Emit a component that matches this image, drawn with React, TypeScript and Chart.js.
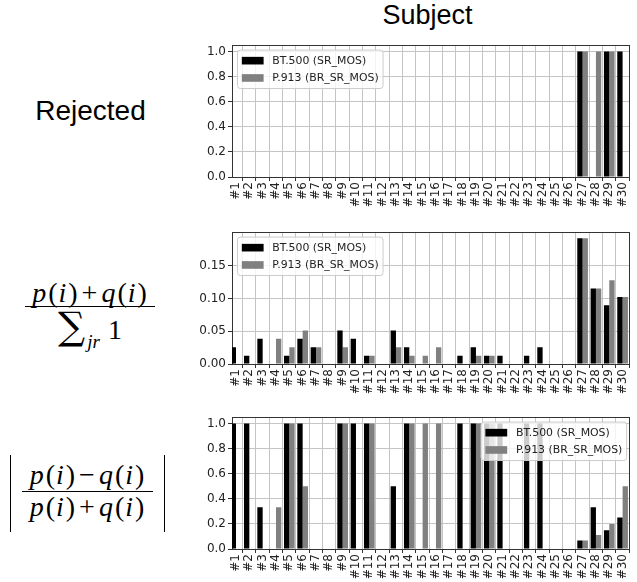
import React, { useEffect, useRef } from 'react';
import { Chart, registerables } from 'chart.js';

Chart.register(...registerables);

// ---------- data ----------
const subjects = ['#1','#2','#3','#4','#5','#6','#7','#8','#9','#10','#11','#12','#13','#14','#15','#16','#17','#18','#19','#20','#21','#22','#23','#24','#25','#26','#27','#28','#29','#30'];
const seriesLabels = ['BT.500 (SR_MOS)', 'P.913 (BR_SR_MOS)'];
const seriesColors = ['#000000', '#808080'];

// Panel 1: Rejected
const rejectedBT500 = [0,0,0,0,0,0,0,0,0,0,0,0,0,0,0,0,0,0,0,0,0,0,0,0,0,0,1,0,1,1];
const rejectedP913  = [0,0,0,0,0,0,0,0,0,0,0,0,0,0,0,0,0,0,0,0,0,0,0,0,0,0,1,1,1,0];

// Panel 2: (p(i)+q(i)) / sum 1
const shareBT500 = [0.0256,0.0128,0.0385,0,0.0128,0.0385,0.0256,0,0.0513,0.0385,0.0128,0,0.0513,0.0256,0,0,0,0.0128,0.0256,0.0128,0.0128,0,0.0128,0.0256,0,0,0.1923,0.1154,0.0897,0.1026];
const shareP913  = [0,0,0,0.0385,0.0256,0.0513,0.0256,0,0.0256,0,0.0128,0,0.0256,0.0128,0.0128,0.0256,0,0,0.0128,0.0128,0,0,0,0,0,0,0.1923,0.1154,0.1282,0.1026];

// Panel 3: |p(i)-q(i)| / (p(i)+q(i))
const asymBT500 = [1,1,0.333,0,1,1,0,0,1,1,1,0,0.5,1,0,0,0,1,1,1,1,0,1,1,0,0,0.067,0.333,0.15,0.25];
const asymP913  = [0,0,0,0.333,1,0.5,0,0,1,0,1,0,0,1,1,1,0,0,1,1,0,0,0,0,0,0,0.067,0.111,0.2,0.5];

const yTicksUnit = [0, 0.2, 0.4, 0.6, 0.8, 1.0];
const yLabelsUnit = ['0.0', '0.2', '0.4', '0.6', '0.8', '1.0'];
const yTicksShare = [0, 0.05, 0.10, 0.15];
const yLabelsShare = ['0.00', '0.05', '0.10', '0.15'];

// ---------- plugins ----------
const framePlugin = {
  id: 'frameSpines',
  afterDatasetsDraw(chart: any) {
    const { ctx, chartArea: a } = chart;
    ctx.save();
    ctx.strokeStyle = '#333333';
    ctx.lineWidth = 1;
    ctx.beginPath();
    ctx.moveTo(a.left, Math.round(a.top) + 0.5);
    ctx.lineTo(a.right, Math.round(a.top) + 0.5);
    ctx.moveTo(Math.round(a.right) - 0.5, a.top);
    ctx.lineTo(Math.round(a.right) - 0.5, a.bottom);
    ctx.stroke();
    ctx.restore();
  },
};

const boxLegendPlugin = {
  id: 'boxLegend',
  afterDraw(chart: any, _args: any, opts: any) {
    const { ctx, chartArea: a } = chart;
    const fs = 10.9;
    ctx.save();
    ctx.font = `${fs}px "DejaVu Sans"`;
    const items = chart.data.datasets.map((d: any) => ({ label: d.label, color: d.backgroundColor }));
    const textW = Math.max(...items.map((it: any) => ctx.measureText(it.label).width));
    const pad = 0.4 * fs;
    const handleW = 2 * fs;
    const gap = 0.8 * fs;
    const textH = 12.4;
    const spacing = 0.45 * fs;
    const boxW = pad + handleW + gap + textW + pad;
    const boxH = 2 * pad + items.length * textH + (items.length - 1) * spacing;
    const top = a.top + 0.45 * fs;
    const left = opts.position === 'right' ? a.right - 0.3 * fs - boxW : a.left + 0.5 * fs;
    const r = 3;
    ctx.beginPath();
    ctx.moveTo(left + r, top);
    ctx.lineTo(left + boxW - r, top);
    ctx.quadraticCurveTo(left + boxW, top, left + boxW, top + r);
    ctx.lineTo(left + boxW, top + boxH - r);
    ctx.quadraticCurveTo(left + boxW, top + boxH, left + boxW - r, top + boxH);
    ctx.lineTo(left + r, top + boxH);
    ctx.quadraticCurveTo(left, top + boxH, left, top + boxH - r);
    ctx.lineTo(left, top + r);
    ctx.quadraticCurveTo(left, top, left + r, top);
    ctx.closePath();
    ctx.fillStyle = 'rgba(255,255,255,0.8)';
    ctx.fill();
    ctx.strokeStyle = '#cccccc';
    ctx.lineWidth = 1;
    ctx.stroke();
    ctx.textBaseline = 'middle';
    ctx.textAlign = 'left';
    items.forEach((it: any, i: number) => {
      const cy = top + pad + textH / 2 + i * (textH + spacing);
      ctx.fillStyle = it.color;
      ctx.fillRect(left + pad, cy - 0.35 * fs, handleW, 0.7 * fs);
      ctx.fillStyle = '#222222';
      ctx.fillText(it.label, left + pad + handleW + gap, cy + 0.5);
    });
    ctx.restore();
  },
};

// ---------- chart component ----------
type PanelProps = {
  top: number;
  bt: number[];
  p9: number[];
  yMax: number;
  yTicks: number[];
  yLabels: string[];
  legendPos: 'left' | 'right';
};

const CANVAS_W = 448;
const CANVAS_H = 171;

function Panel({ top, bt, p9, yMax, yTicks, yLabels, legendPos }: PanelProps) {
  const ref = useRef<HTMLCanvasElement | null>(null);
  useEffect(() => {
    if (!ref.current) return;
    const tickFont = { family: '"DejaVu Sans"', size: 12 };
    const chart = new Chart(ref.current, {
      type: 'bar',
      data: {
        datasets: [
          {
            label: seriesLabels[0],
            data: bt.map((v, i) => ({ x: i + 1, y: v })),
            backgroundColor: seriesColors[0],
            borderWidth: 0,
            clip: 0,
          } as any,
          {
            label: seriesLabels[1],
            data: p9.map((v, i) => ({ x: i + 1, y: v })),
            backgroundColor: seriesColors[1],
            borderWidth: 0,
            clip: 0,
          } as any,
        ],
      },
      options: {
        responsive: false,
        animation: false,
        events: [],
        layout: { padding: { top: 5, left: 0, right: 0, bottom: 0 } },
        datasets: { bar: { categoryPercentage: 0.8, barPercentage: 1.0 } },
        plugins: {
          legend: { display: false },
          tooltip: { enabled: false },
          boxLegend: { position: legendPos },
        } as any,
        scales: {
          x: {
            type: 'linear',
            min: 0.7,
            max: 30.55,
            offset: false,
            afterBuildTicks: (scale: any) => {
              scale.ticks = subjects.map((_, i) => ({ value: i + 1 }));
            },
            afterFit: (scale: any) => {
              scale.height = 30;
            },
            ticks: {
              autoSkip: false,
              minRotation: 90,
              maxRotation: 90,
              padding: 1,
              color: '#222222',
              font: tickFont,
              callback: (_v: any, i: number) => subjects[i],
            },
            grid: {
              color: '#c4c4c4',
              lineWidth: 1,
              tickColor: '#333333',
              tickLength: 4,
            },
            border: { color: '#333333', width: 1 },
          } as any,
          y: {
            type: 'linear',
            min: 0,
            max: yMax,
            afterBuildTicks: (scale: any) => {
              scale.ticks = yTicks.map((v) => ({ value: v }));
            },
            afterFit: (scale: any) => {
              scale.width = 42;
            },
            ticks: {
              padding: 2,
              color: '#222222',
              font: tickFont,
              callback: (_v: any, i: number) => yLabels[i],
            },
            grid: {
              color: '#c4c4c4',
              lineWidth: 1,
              tickColor: '#333333',
              tickLength: 4,
            },
            border: { color: '#333333', width: 1 },
          } as any,
        },
      },
      plugins: [framePlugin, boxLegendPlugin],
    });
    return () => chart.destroy();
  }, []);
  return (
    <canvas
      ref={ref}
      width={CANVAS_W}
      height={CANVAS_H}
      style={{ position: 'absolute', left: 190, top, width: CANVAS_W, height: CANVAS_H }}
    />
  );
}

// ---------- math text helpers ----------
const serif = '"Liberation Serif", "DejaVu Serif", serif';
const I = ({ c }: { c: string }) => <span style={{ fontStyle: 'italic' }}>{c}</span>;
const PofI = ({ f }: { f: string }) => (
  <span>
    <I c={f} />
    <span style={{ marginLeft: 1 }}>(</span>
    <I c="i" />
    <span style={{ marginLeft: 1 }}>)</span>
  </span>
);
const Op = ({ c }: { c: string }) => <span style={{ margin: '0 3px' }}>{c}</span>;

export default function App() {
  const lineBase: React.CSSProperties = {
    position: 'absolute',
    fontFamily: serif,
    fontSize: 28,
    lineHeight: '28px',
    textAlign: 'center',
    whiteSpace: 'nowrap',
    color: '#000',
    letterSpacing: 1,
  };
  return (
    <div
      style={{
        position: 'fixed',
        left: 0,
        top: 0,
        width: 637,
        height: 582,
        overflow: 'hidden',
        background: '#ffffff',
      }}
    >
      <div
        style={{
          position: 'absolute',
          left: 327.5,
          width: 200,
          top: 2,
          textAlign: 'center',
          fontFamily: '"Liberation Sans", Arial, sans-serif',
          fontSize: 27,
          lineHeight: '27px',
          color: '#000',
        }}
      >
        Subject
      </div>
      <div
        style={{
          position: 'absolute',
          left: 0,
          width: 181,
          top: 97,
          textAlign: 'center',
          fontFamily: '"Liberation Sans", Arial, sans-serif',
          fontSize: 28,
          lineHeight: '28px',
          color: '#000',
        }}
      >
        Rejected
      </div>

      {/* middle formula: (p(i)+q(i)) / sum_jr 1 */}
      <div style={{ ...lineBase, left: 22, width: 136, top: 279 }}>
        <PofI f="p" />
        <Op c="+" />
        <PofI f="q" />
      </div>
      <div style={{ position: 'absolute', left: 25, width: 130, top: 306, height: 1.4, background: '#000' }} />
      <div style={{ ...lineBase, left: 22, width: 136, top: 309, letterSpacing: 0, lineHeight: '34px', height: 34 }}>
        <span style={{ fontSize: 38, fontFamily: '"DejaVu Serif", serif', fontWeight: 300 }}>∑</span>
        <span style={{ fontStyle: 'italic', fontSize: 19, position: 'relative', top: 9, marginLeft: 2 }}>jr</span>
        <span style={{ marginLeft: 8 }}>1</span>
      </div>

      {/* bottom formula: |(p(i)-q(i)) / (p(i)+q(i))| */}
      <div style={{ position: 'absolute', left: 9.5, width: 1.4, top: 455, height: 77, background: '#000' }} />
      <div style={{ position: 'absolute', left: 164, width: 1.4, top: 455, height: 77, background: '#000' }} />
      <div style={{ ...lineBase, left: 19, width: 137, top: 461 }}>
        <PofI f="p" />
        <Op c="−" />
        <PofI f="q" />
      </div>
      <div style={{ position: 'absolute', left: 22, width: 131, top: 491, height: 1.4, background: '#000' }} />
      <div style={{ ...lineBase, left: 19, width: 137, top: 493 }}>
        <PofI f="p" />
        <Op c="+" />
        <PofI f="q" />
      </div>

      <Panel top={36} bt={rejectedBT500} p9={rejectedP913} yMax={1.05} yTicks={yTicksUnit} yLabels={yLabelsUnit} legendPos="left" />
      <Panel top={223} bt={shareBT500} p9={shareP913} yMax={0.2016} yTicks={yTicksShare} yLabels={yLabelsShare} legendPos="left" />
      <Panel top={408} bt={asymBT500} p9={asymP913} yMax={1.05} yTicks={yTicksUnit} yLabels={yLabelsUnit} legendPos="right" />
    </div>
  );
}
